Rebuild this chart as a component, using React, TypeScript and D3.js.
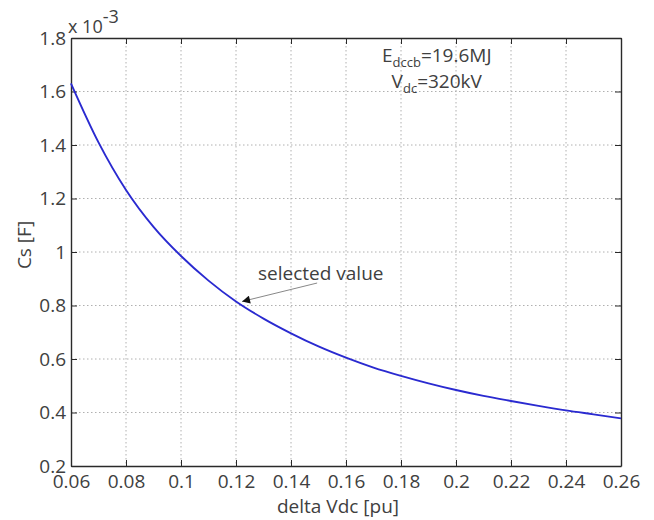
import React, { useEffect, useRef } from "react";
import * as d3 from "d3";

// delta Vdc [pu] vs Cs [x 1e-3 F]
const deltaVdc = [0.06, 0.07, 0.08, 0.09, 0.1, 0.11, 0.12, 0.13, 0.14, 0.15, 0.16, 0.17, 0.18, 0.19, 0.2, 0.21, 0.22, 0.23, 0.24, 0.25, 0.26];
const csValues = [1.63, 1.41, 1.232, 1.094, 0.985, 0.893, 0.815, 0.751, 0.696, 0.647, 0.605, 0.568, 0.537, 0.509, 0.484, 0.462, 0.443, 0.425, 0.408, 0.393, 0.378];

const xTicks = [0.06, 0.08, 0.1, 0.12, 0.14, 0.16, 0.18, 0.2, 0.22, 0.24, 0.26];
const yTicks = [0.2, 0.4, 0.6, 0.8, 1, 1.2, 1.4, 1.6, 1.8];

const selected = { x: 0.1222, y: 0.815 };
const selectedTail = { x: 0.1495, y: 0.884 };
const selectedLabel = { x: 0.128, y: 0.897, text: "selected value" };

const W = 654;
const H = 520;
const margin = { top: 38, right: 33, bottom: 54, left: 71 };
const FONT = "'Open Sans', sans-serif";
const TXT = "#404040";

const App = () => {
  const svgRef = useRef<SVGSVGElement | null>(null);

  useEffect(() => {
    const svg = d3.select(svgRef.current);
    svg.selectAll("*").remove();

    const x = d3.scaleLinear().domain([0.06, 0.26]).range([margin.left, W - margin.right]);
    const y = d3.scaleLinear().domain([0.2, 1.8]).range([H - margin.bottom, margin.top]);
    const fmt = (d: any) => String(+(+d).toFixed(2));

    svg.append("rect").attr("width", W).attr("height", H).attr("fill", "#fff");

    // dotted grid
    const grid = svg.append("g").attr("stroke", "#b0b0b0").attr("stroke-width", 1).attr("stroke-dasharray", "1.5,2.5");
    grid.selectAll("line.gx").data(xTicks.slice(1, -1)).join("line")
      .attr("x1", (d) => x(d)).attr("x2", (d) => x(d))
      .attr("y1", y(1.8)).attr("y2", y(0.2));
    grid.selectAll("line.gy").data(yTicks.slice(1, -1)).join("line")
      .attr("x1", x(0.06)).attr("x2", x(0.26))
      .attr("y1", (d) => y(d)).attr("y2", (d) => y(d));

    // axes with inward ticks on all four sides
    const styleAxis = (g: any) => {
      g.select(".domain").attr("stroke", "#2a2a2a").attr("stroke-width", 1.4);
      g.selectAll(".tick line").attr("stroke", "#2a2a2a").attr("stroke-width", 1);
      g.selectAll("text").attr("fill", TXT).style("font-family", FONT).style("font-size", "19px");
    };

    svg.append("g").attr("transform", `translate(0,${y(0.2)})`)
      .call(d3.axisBottom(x).tickValues(xTicks).tickFormat(fmt).tickSizeInner(-6).tickSizeOuter(0).tickPadding(9))
      .call(styleAxis);
    svg.append("g").attr("transform", `translate(0,${y(1.8)})`)
      .call(d3.axisTop(x).tickValues(xTicks).tickFormat(() => "").tickSizeInner(-6).tickSizeOuter(0))
      .call(styleAxis);
    svg.append("g").attr("transform", `translate(${x(0.06)},0)`)
      .call(d3.axisLeft(y).tickValues(yTicks).tickFormat(fmt).tickSizeInner(-6).tickSizeOuter(0).tickPadding(5))
      .call(styleAxis);
    svg.append("g").attr("transform", `translate(${x(0.26)},0)`)
      .call(d3.axisRight(y).tickValues(yTicks).tickFormat(() => "").tickSizeInner(-6).tickSizeOuter(0))
      .call(styleAxis);

    // exponent label
    const expo = svg.append("text").attr("x", x(0.06) - 3).attr("y", 33)
      .attr("fill", TXT).style("font-family", FONT).style("font-size", "18px");
    expo.append("tspan").text("x 10");
    expo.append("tspan").attr("dy", -10).style("font-size", "18px").text("-3");

    // curve
    const pts = deltaVdc.map((d, i) => [d, csValues[i]] as [number, number]);
    const line = d3.line<[number, number]>()
      .x((d) => x(d[0])).y((d) => y(d[1]))
      .curve(d3.curveMonotoneX);
    svg.append("path").datum(pts)
      .attr("d", line)
      .attr("fill", "none")
      .attr("stroke", "#2a2ad0")
      .attr("stroke-width", 1.9);

    // annotation arrow
    const defs = svg.append("defs");
    defs.append("marker")
      .attr("id", "arrowHead")
      .attr("viewBox", "0 0 10 10")
      .attr("refX", 10).attr("refY", 5)
      .attr("markerWidth", 11).attr("markerHeight", 8)
      .attr("markerUnits", "userSpaceOnUse")
      .attr("orient", "auto")
      .append("path").attr("d", "M0,0 L10,5 L0,10 Z").attr("fill", "#111");
    svg.append("line")
      .attr("x1", x(selectedTail.x)).attr("y1", y(selectedTail.y))
      .attr("x2", x(selected.x)).attr("y2", y(selected.y))
      .attr("stroke", "#888").attr("stroke-width", 1)
      .attr("marker-end", "url(#arrowHead)");
    svg.append("text")
      .attr("x", x(selectedLabel.x)).attr("y", y(selectedLabel.y))
      .attr("fill", TXT).style("font-family", FONT).style("font-size", "19px")
      .text(selectedLabel.text);

    // parameter box text
    const e = svg.append("text").attr("x", x(0.193)).attr("y", y(1.71)).attr("text-anchor", "middle")
      .attr("fill", TXT).style("font-family", FONT).style("font-size", "19px");
    e.append("tspan").text("E");
    e.append("tspan").attr("dy", 5).style("font-size", "13px").text("dccb");
    e.append("tspan").attr("dy", -5).text("=19.6MJ");
    const v = svg.append("text").attr("x", x(0.193)).attr("y", y(1.613)).attr("text-anchor", "middle")
      .attr("fill", TXT).style("font-family", FONT).style("font-size", "19px");
    v.append("tspan").text("V");
    v.append("tspan").attr("dy", 5).style("font-size", "13px").text("dc");
    v.append("tspan").attr("dy", -5).text("=320kV");

    // axis titles
    svg.append("text")
      .attr("x", (x(0.06) + x(0.26)) / 2 - 8).attr("y", 513)
      .attr("text-anchor", "middle")
      .attr("fill", TXT).style("font-family", FONT).style("font-size", "19px")
      .text("delta Vdc [pu]");
    svg.append("text")
      .attr("transform", `translate(31,${(y(0.2) + y(1.8)) / 2 - 7}) rotate(-90)`)
      .attr("text-anchor", "middle")
      .attr("fill", TXT).style("font-family", FONT).style("font-size", "19px")
      .text("Cs [F]");
  }, []);

  return (
    <div style={{ position: "absolute", left: 0, top: 0 }}>
      <svg ref={svgRef} width={W} height={H} style={{ display: "block" }}></svg>
    </div>
  );
};

export default App;
